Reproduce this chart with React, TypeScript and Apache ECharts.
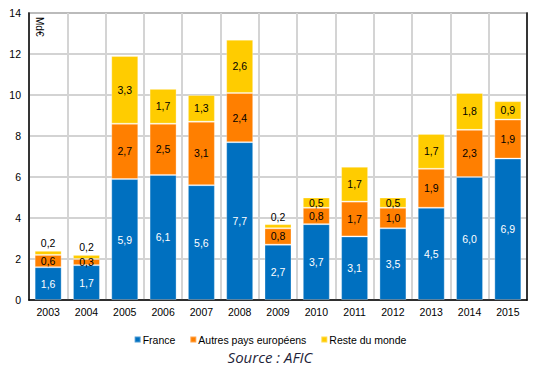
import React, { useEffect, useRef } from "react";
import * as echarts from "echarts";

const years = ["2003", "2004", "2005", "2006", "2007", "2008", "2009", "2010", "2011", "2012", "2013", "2014", "2015"];
const france = [1.6, 1.7, 5.9, 6.1, 5.6, 7.7, 2.7, 3.7, 3.1, 3.5, 4.5, 6.0, 6.9];
const autres = [0.6, 0.3, 2.7, 2.5, 3.1, 2.4, 0.8, 0.8, 1.7, 1.0, 1.9, 2.3, 1.9];
const reste = [0.2, 0.2, 3.3, 1.7, 1.3, 2.6, 0.2, 0.5, 1.7, 0.5, 1.7, 1.8, 0.9];
const seriesNames = ["France", "Autres pays européens", "Reste du monde"];
const colors = ["#0070C0", "#FF7F00", "#FFCC00"];
const yTicks = [0, 2, 4, 6, 8, 10, 12, 14];

const fmt = (v: number) => v.toFixed(1).replace(".", ",");

export default function App() {
  const ref = useRef<HTMLDivElement>(null);
  useEffect(() => {
    if (!ref.current) return;
    const chart = echarts.init(ref.current, null, { renderer: "svg" });
    const font = "'Liberation Sans', Arial, sans-serif";
    const mk = (name: string, vals: number[], color: string, labelColor: string, smallTop: boolean) => ({
      name,
      type: "bar",
      stack: "total",
      barWidth: 27,
      itemStyle: { color, borderColor: "rgba(255,255,255,0.3)", borderWidth: 1 },
      label: {
        show: true,
        position: "inside",
        color: labelColor,
        fontSize: 10.5,
        fontFamily: font,
        formatter: (p: any) => fmt(p.value),
      },
      data: vals.map((v) =>
        smallTop && v < 0.3
          ? { value: v, label: { position: "top", distance: 2, color: "#000" } }
          : { value: v }
      ),
    });
    chart.setOption({
      animation: false,
      backgroundColor: "#fff",
      grid: { left: 29, right: 13, top: 13, bottom: 75, show: true, borderColor: "#808080", borderWidth: 1.5 },
      xAxis: {
        type: "category",
        data: years,
        axisLine: { lineStyle: { color: "#000", width: 1.5 } },
        axisTick: { show: false },
        axisLabel: { color: "#000", fontSize: 10.5, fontFamily: font, margin: 6 },
        splitLine: { show: true, lineStyle: { color: "#d4d4d4", width: 2 } },
      },
      yAxis: [
        {
          type: "value",
          min: yTicks[0],
          max: yTicks[yTicks.length - 1],
          interval: 2,
          axisLine: { show: true, lineStyle: { color: "#000", width: 1.5 } },
          axisTick: { show: false },
          axisLabel: { color: "#000", fontSize: 10.5, fontFamily: font, margin: 8 },
          splitLine: { show: true, lineStyle: { color: "#c4c4c4", width: 1.5 } },
        },
        {
          type: "value",
          position: "right",
          min: yTicks[0],
          max: yTicks[yTicks.length - 1],
          interval: 2,
          axisLine: { show: true, lineStyle: { color: "#000", width: 1.5 } },
          axisTick: { show: false },
          axisLabel: { show: false },
          splitLine: { show: false },
        },
      ],
      legend: {
        data: seriesNames,
        top: 329,
        left: "center",
        icon: "rect",
        itemWidth: 6,
        itemHeight: 6,
        itemGap: 14,
        textStyle: { color: "#000", fontSize: 10.5, fontFamily: font, padding: [0, 0, 0, -3] },
      },
      graphic: [
        {
          type: "text",
          x: 44,
          y: 17,
          rotation: -Math.PI / 2,
          style: { text: "Md€", fontSize: 10, fontFamily: font, fill: "#000" },
        },
        {
          type: "text",
          left: "center",
          top: 349,
          style: {
            text: "Source : AFIC",
            fontSize: 15,
            fontStyle: "italic",
            fontFamily: "'Open Sans', 'Liberation Sans', sans-serif",
            fill: "#1f1f3a",
          },
        },
      ],
      series: [
        mk(seriesNames[0], france, colors[0], "#fff", false),
        mk(seriesNames[1], autres, colors[1], "#000", false),
        mk(seriesNames[2], reste, colors[2], "#000", true),
      ],
    });
    return () => chart.dispose();
  }, []);
  return <div ref={ref} style={{ position: "absolute", left: 0, top: 0, width: 540, height: 375 }} />;
}
